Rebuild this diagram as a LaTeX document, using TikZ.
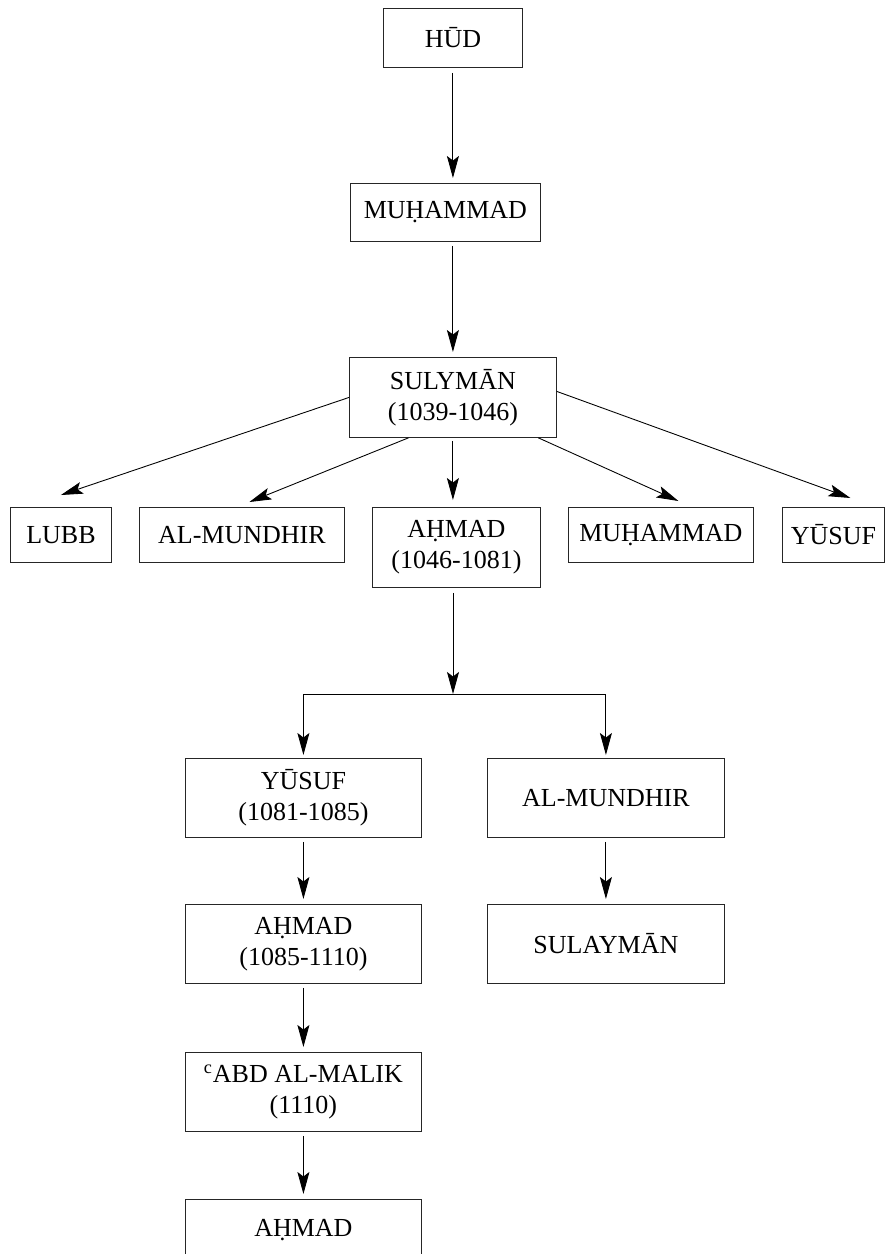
\documentclass[tikz,border=0pt]{standalone}
\usepackage{fontspec}
\setmainfont{Liberation Serif}
\usetikzlibrary{arrows.meta}

\tikzset{
  person/.style={draw=black!85, line width=0.5pt, anchor=north west, align=center, inner sep=0pt, font=\fontsize{14.8pt}{17.6pt}\selectfont},
  link/.style={->, >={Stealth[length=4.4mm, width=2.4mm, inset=0.9mm]}, line width=0.5pt},
}

\begin{document}
\begin{tikzpicture}[x=0.02cm, y=-0.02cm]
        \useasboundingbox (0,0) rectangle (885,1254);
        \clip (0,0) rectangle (885,1254);

        % first generations
        \node (hud) [person, minimum width=2.78cm, minimum height=1.18cm] at (383,8) {HŪD};
        \node (muhA) [person, minimum width=3.8cm, minimum height=1.16cm] at (350,183) {MUḤAMMAD};
        \node (sul) [person, minimum width=4.14cm, minimum height=1.6cm] at (349,357) {SULYMĀN\\(1039-1046)};

        % sons of Sulymān
        \node (lubb) [person, minimum width=2.02cm, minimum height=1.1cm] at (10,507) {LUBB};
        \node (mundA) [person, minimum width=4.1cm, minimum height=1.1cm] at (139,507) {AL-MUNDHIR};
        \node (ahmA) [person, minimum width=3.36cm, minimum height=1.6cm] at (372,507) {AḤMAD\\(1046-1081)};
        \node (muhB) [person, minimum width=3.7cm, minimum height=1.1cm] at (568,507) {MUḤAMMAD};
        \node (yusA) [person, minimum width=2.04cm, minimum height=1.1cm] at (782,507) {YŪSUF};

        % sons of Aḥmad
        \node (yusB) [person, minimum width=4.72cm, minimum height=1.58cm] at (185,758) {YŪSUF\\(1081-1085)};
        \node (mundB) [person, minimum width=4.74cm, minimum height=1.58cm] at (487,758) {AL-MUNDHIR};
        \node (ahmB) [person, minimum width=4.72cm, minimum height=1.58cm] at (185,904) {AḤMAD\\(1085-1110)};
        \node (sulB) [person, minimum width=4.74cm, minimum height=1.58cm] at (487,904) {SULAYMĀN};
        \node (abd) [person, minimum width=4.72cm, minimum height=1.58cm] at (185,1052) {\textsuperscript{c}ABD AL-MALIK\\(1110)};
        \node (ahmC) [person, minimum width=4.72cm, minimum height=1.24cm] at (185,1199) {AḤMAD};

        \draw[link, shorten <=1mm, shorten >=1mm] (hud.south) -- (hud.south |- muhA.north);
        \draw[link, shorten <=0.8mm, shorten >=1mm] (sul.north |- muhA.south) -- (sul.north);

        \draw[link] (sul.west) -- ([yshift=2.4mm]lubb.north);
        \draw[link] ([xshift=-8.9mm]sul.south) -- ([xshift=1.5mm, yshift=1mm]mundA.north);
        \draw[link, shorten <=0.6mm, shorten >=1.4mm] (sul.south) -- (sul.south |- ahmA.north);
        \draw[link] ([xshift=17.1mm]sul.south) -- ([xshift=3.5mm, yshift=1.2mm]muhB.north);
        \draw[link] ([yshift=1.2mm]sul.east) -- ([xshift=3.4mm, yshift=1.8mm]yusA.north);

        \coordinate (fork) at (453,694);
        \draw[line width=0.5pt] (yusB.north |- fork) -- (mundB.north |- fork);
        \draw[link, shorten <=1mm] (fork |- ahmA.south) -- (fork);
        \draw[link, shorten >=0.6mm] (yusB.north |- fork) -- (yusB.north);
        \draw[link, shorten >=0.6mm] (mundB.north |- fork) -- (mundB.north);

        \foreach \a/\b in {yusB/ahmB, mundB/sulB, ahmB/abd, abd/ahmC}
            \draw[link, shorten <=0.8mm, shorten >=1mm] (\a) -- (\b);
\end{tikzpicture}
\end{document}
